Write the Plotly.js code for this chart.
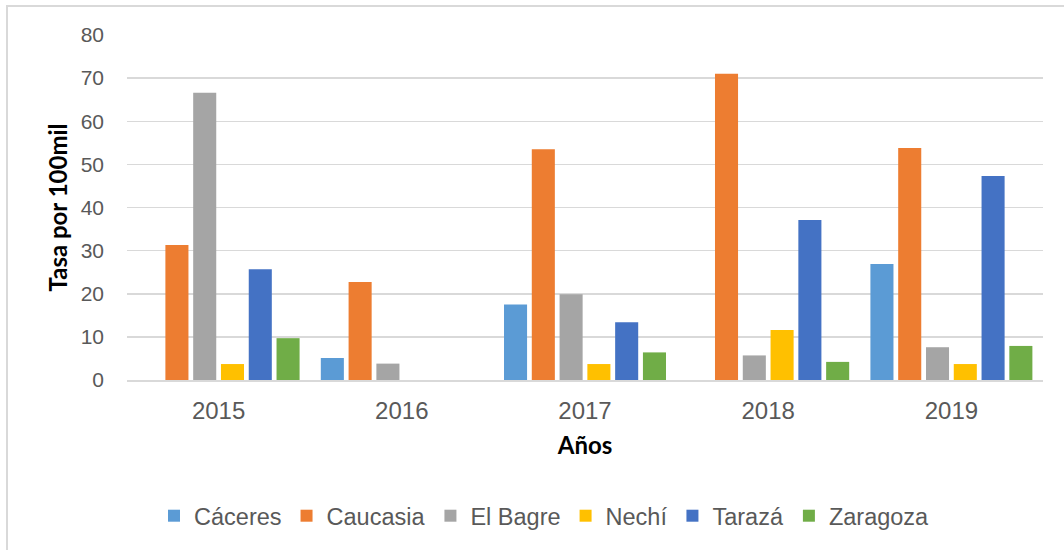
<!DOCTYPE html>
<html>
<head>
<meta charset="utf-8">
<script src="https://cdn.plot.ly/plotly-3.0.1.min.js"></script>
<style>
  body { margin: 0; background: #fff; }
  #chart { width: 1064px; height: 550px; }
</style>
</head>
<body>
<div id="chart"></div>
<script>
const years = ["2015", "2016", "2017", "2018", "2019"];

const caceres  = [0, 5.1, 17.5, 0, 26.9];
const caucasia = [31.3, 22.7, 53.5, 71.0, 53.8];
const elBagre  = [66.6, 3.8, 19.9, 5.7, 7.6];
const nechi    = [3.7, 0, 3.7, 11.6, 3.7];
const taraza   = [25.7, 0, 13.4, 37.1, 47.3];
const zaragoza = [9.7, 0, 6.4, 4.2, 7.9];

const seriesNames = ["Cáceres", "Caucasia", "El Bagre", "Nechí", "Tarazá", "Zaragoza"];
const seriesValues = [caceres, caucasia, elBagre, nechi, taraza, zaragoza];
const colors = ["#5B9BD5", "#ED7D31", "#A5A5A5", "#FFC000", "#4472C4", "#70AD47"];

const traces = seriesNames.map((name, i) => ({
    type: 'bar',
    name: name,
    x: years,
    y: seriesValues[i],
    marker: { color: colors[i], line: { width: 0 } },
    hoverinfo: 'x+y+name'
}));

const layout = {
    width: 1064,
    height: 550,
    margin: { l: 127, r: 21, t: 35, b: 170 },
    paper_bgcolor: '#ffffff',
    plot_bgcolor: '#ffffff',
    barmode: 'group',
    bargap: 0.09,
    bargroupgap: 0.17,
    font: { family: 'Liberation Sans, Arial, sans-serif', color: '#595959', size: 18 },
    xaxis: {
        type: 'category',
        showgrid: false,
        showline: true,
        linecolor: '#d9d9d9',
        linewidth: 1.5,
        ticks: '',
        ticklabelstandoff: 9,
        tickfont: { size: 24, color: '#595959' },
        title: {
            text: 'Años',
            font: { family: 'Lato, Carlito, sans-serif', size: 24, color: '#000000', weight: 'bold' },
            standoff: 14
        }
    },
    yaxis: {
        range: [0, 80],
        dtick: 10,
        showgrid: true,
        gridcolor: '#d9d9d9',
        gridwidth: 1.5,
        zeroline: false,
        ticks: '',
        ticklabelstandoff: 22,
        tickfont: { size: 21, color: '#595959' },
        title: {
            text: 'Tasa por 100mil',
            font: { family: 'Lato, Carlito, sans-serif', size: 24, color: '#000000', weight: 'bold' },
            standoff: 6
        }
    },
    showlegend: true,
    legend: {
        orientation: 'h',
        x: 0.0295,
        xanchor: 'left',
        y: -0.394,
        yanchor: 'middle',
        font: { size: 23.5, color: '#595959' },
        itemwidth: 30,
        traceorder: 'normal'
    },
    shapes: [{
        type: 'rect',
        xref: 'paper', yref: 'paper',
        x0: -120 / 916, x1: 1.1,
        y0: -0.6, y1: 1 + 29 / 345,
        line: { color: '#d9d9d9', width: 2 },
        fillcolor: 'rgba(0,0,0,0)',
        layer: 'below'
    }]
};

Plotly.newPlot('chart', traces, layout, { displayModeBar: false, staticPlot: true });
</script>
</body>
</html>
